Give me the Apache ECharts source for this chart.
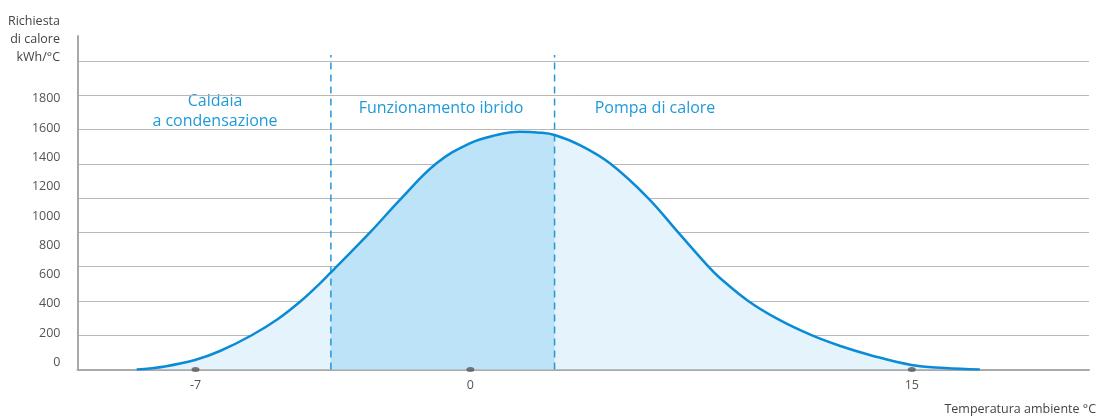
<!DOCTYPE html>
<html>
<head>
<meta charset="utf-8">
<script src="https://cdn.jsdelivr.net/npm/echarts@6/dist/echarts.min.js"></script>
<style>
html,body{margin:0;padding:0;background:#fff;}
#chart{width:1098px;height:417px;}
</style>
</head>
<body>
<div id="chart"></div>
<script>
// Curve (schematic temperature position, heat demand on gridline scale)
const curveX = [-11.34, -10.38, -9.36, -8.51, -7.43, -6.54, -5.76, -5.11, -4.74, -4.55, -3.41, -2.33, -1.15, -0.02, 0.83, 1.68, 2.36, 2.86, 3.72, 4.74, 6.03, 7.06, 8.09, 8.48, 9.44, 10.50, 11.59, 12.57, 13.57, 14.99, 16.12, 17.31];
const curveY = [0, 18, 55, 108, 200, 295, 400, 503, 567, 600, 800, 1002, 1203, 1320, 1366, 1387, 1382, 1368, 1309, 1203, 1002, 800, 600, 534, 400, 289, 200, 137, 85, 26, 9, 0];
// Zone dividers
const dividerX = [-4.74, 2.86];
const dividerTop = 1835;
// X ticks (positions on schematic axis, and their labels)
const xTickPos = [-9.34, 0, 15];
const xTickLabels = ['-7', '0', '15'];
// Y tick labels
const yTickLabels = [0, 200, 400, 600, 800, 1000, 1200, 1400, 1600, 1800];
// Texts
const zoneNames = ['Caldaia\na condensazione', 'Funzionamento ibrido', 'Pompa di calore'];
const yTitle = 'Richiesta\ndi calore\nkWh/°C';
const xTitle = 'Temperatura ambiente °C';

const full = curveX.map((x, i) => [x, curveY[i]]);
const middle = full.filter(p => p[0] >= dividerX[0] - 1e-9 && p[0] <= dividerX[1] + 1e-9);

const chart = echarts.init(document.getElementById('chart'), null, {renderer: 'canvas'});
const FONT = '"Open Sans", "Noto Sans", sans-serif';
const BLUE_TXT = '#1f9ad8';
const SMOOTH = 0.4;

const series = [
  {
    type: 'line', data: full, smooth: SMOOTH, showSymbol: false, z: 1,
    lineStyle: {width: 0}, areaStyle: {color: '#e4f3fc', opacity: 1}, silent: true
  },
  {
    type: 'line', data: middle, smooth: SMOOTH, showSymbol: false, z: 2,
    lineStyle: {width: 0}, areaStyle: {color: '#bde3f8', opacity: 1}, silent: true
  },
  {
    type: 'line', data: full, smooth: SMOOTH, showSymbol: false, z: 4,
    lineStyle: {color: '#0a8bd6', width: 2.5}, silent: true
  },
  {
    type: 'scatter', data: xTickPos.map(x => [x, 0]), symbol: 'circle', symbolSize: [8, 5],
    itemStyle: {color: '#595959'}, z: 6, clip: false, silent: true
  }
];
dividerX.forEach(x => {
  series.push({
    type: 'line', data: [[x, 0], [x, dividerTop]], showSymbol: false, z: 3, silent: true,
    lineStyle: {color: '#2596d6', width: 1.5, type: [7, 5]}
  });
});

chart.setOption({
  animation: false,
  grid: {left: 77.5, right: 9, top: 36, bottom: 47.5},
  xAxis: {
    type: 'value', min: -13.35, max: 21.02,
    axisLine: {show: true, onZero: false, lineStyle: {color: '#a9a9a9', width: 2}},
    axisTick: {show: false},
    splitLine: {show: false},
    axisLabel: {
      customValues: xTickPos,
      formatter: v => { const i = xTickPos.findIndex(p => Math.abs(p - v) < 1e-6); return i >= 0 ? xTickLabels[i] : ''; },
      color: '#555', fontSize: 12.5, fontFamily: FONT, margin: 9
    }
  },
  yAxis: [
    {
      type: 'value', min: 0, max: 1946, interval: 200,
      axisLine: {show: true, onZero: false, lineStyle: {color: '#a9a9a9', width: 2}},
      axisTick: {show: false},
      axisLabel: {show: false},
      splitLine: {show: true, showMaxLine: false, lineStyle: {color: '#b8b8b8', width: 1}}
    },
    {
      type: 'value', min: -49, max: 2230, position: 'left',
      axisLine: {show: false, onZero: false}, axisTick: {show: false}, splitLine: {show: false},
      axisLabel: {customValues: yTickLabels, formatter: v => String(v), color: '#555', fontSize: 12.5, fontFamily: FONT, margin: 17}
    }
  ],
  series: series,
  graphic: [
    {type: 'text', style: {text: yTitle, x: 60, y: 12, textAlign: 'right', font: '12.5px ' + FONT, lineHeight: 18, fill: '#444'}},
    {type: 'text', style: {text: xTitle, x: 1096, y: 403, textAlign: 'right', font: '12.5px ' + FONT, fill: '#444'}},
    {type: 'text', style: {text: zoneNames[0], x: 215, y: 91, textAlign: 'center', font: '16px ' + FONT, lineHeight: 20, fill: BLUE_TXT}},
    {type: 'text', style: {text: zoneNames[1], x: 441, y: 100, textAlign: 'center', font: '16px ' + FONT, fill: BLUE_TXT}},
    {type: 'text', style: {text: zoneNames[2], x: 655, y: 100, textAlign: 'center', font: '16px ' + FONT, fill: BLUE_TXT}}
  ]
});
</script>
</body>
</html>
